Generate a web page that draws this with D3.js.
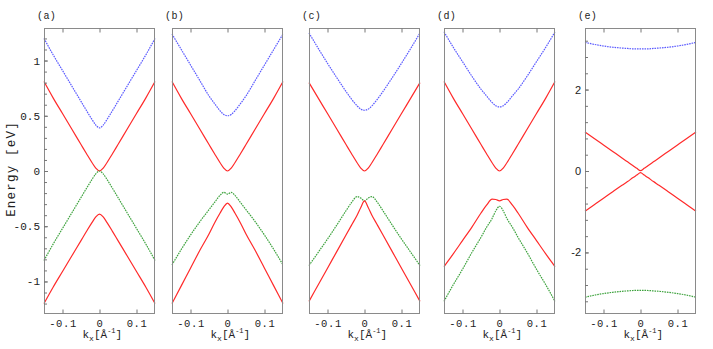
<!DOCTYPE html>
<html>
<head>
<meta charset="utf-8">
<script src="https://cdn.jsdelivr.net/npm/d3@7"></script>
<style>
  body { margin: 0; background: #fff; }
  text { font-family: "Liberation Mono", "DejaVu Sans Mono", monospace; fill: #222; }
</style>
</head>
<body>
<svg id="chart" width="713" height="349"></svg>
<script>
// momentum grid, k_x in 1/Angstrom
const kx = [-0.15, -0.125, -0.1, -0.075, -0.05, -0.035, -0.02, -0.01, 0, 0.01, 0.02, 0.035, 0.05, 0.075, 0.1, 0.125, 0.15];

// panel (a)
const aBlue   = [1.20, 1.05, 0.91, 0.77, 0.63, 0.546, 0.465, 0.416, 0.39, 0.416, 0.465, 0.546, 0.63, 0.77, 0.91, 1.05, 1.20];
const aRedUp  = [0.81, 0.66, 0.52, 0.38, 0.24, 0.156, 0.075, 0.026, 0, 0.026, 0.075, 0.156, 0.24, 0.38, 0.52, 0.66, 0.81];
const aGreen  = [-0.81, -0.66, -0.52, -0.38, -0.24, -0.156, -0.075, -0.026, 0, -0.026, -0.075, -0.156, -0.24, -0.38, -0.52, -0.66, -0.81];
const aRedLow = [-1.20, -1.05, -0.91, -0.77, -0.63, -0.546, -0.465, -0.416, -0.39, -0.416, -0.465, -0.546, -0.63, -0.77, -0.91, -1.05, -1.20];

// panel (b)
const bBlue   = [1.24, 1.10, 0.96, 0.82, 0.68, 0.61, 0.545, 0.512, 0.50, 0.512, 0.545, 0.61, 0.68, 0.82, 0.96, 1.10, 1.24];
const bRedUp  = [0.81, 0.66, 0.52, 0.38, 0.24, 0.156, 0.075, 0.026, 0, 0.026, 0.075, 0.156, 0.24, 0.38, 0.52, 0.66, 0.81];
const bGreen  = [-0.85, -0.71, -0.58, -0.46, -0.35, -0.285, -0.22, -0.193, -0.21, -0.193, -0.22, -0.285, -0.35, -0.46, -0.58, -0.71, -0.85];
const bRedLow = [-1.20, -1.04, -0.88, -0.72, -0.57, -0.47, -0.38, -0.325, -0.29, -0.325, -0.38, -0.47, -0.57, -0.72, -0.88, -1.04, -1.20];

// panel (c)
const cBlue   = [1.25, 1.11, 0.975, 0.845, 0.72, 0.65, 0.59, 0.56, 0.55, 0.56, 0.59, 0.65, 0.72, 0.845, 0.975, 1.11, 1.25];
const cRedUp  = [0.80, 0.66, 0.52, 0.38, 0.24, 0.156, 0.075, 0.026, 0, 0.026, 0.075, 0.156, 0.24, 0.38, 0.52, 0.66, 0.80];
const cGreen  = [-0.856, -0.736, -0.616, -0.49, -0.36, -0.285, -0.232, -0.245, -0.27, -0.245, -0.232, -0.285, -0.36, -0.49, -0.616, -0.736, -0.856];
const cRedLow = [-1.18, -1.03, -0.88, -0.73, -0.58, -0.49, -0.40, -0.33, -0.27, -0.33, -0.40, -0.49, -0.58, -0.73, -0.88, -1.03, -1.18];

// panel (d)
const dBlue   = [1.26, 1.12, 0.99, 0.86, 0.74, 0.68, 0.62, 0.59, 0.58, 0.59, 0.62, 0.68, 0.74, 0.86, 0.99, 1.12, 1.26];
const dRedUp  = [0.81, 0.66, 0.52, 0.38, 0.24, 0.156, 0.075, 0.026, 0, 0.026, 0.075, 0.156, 0.24, 0.38, 0.52, 0.66, 0.81];
const dRedLow = [-0.865, -0.75, -0.63, -0.51, -0.38, -0.31, -0.255, -0.258, -0.27, -0.258, -0.255, -0.31, -0.38, -0.51, -0.63, -0.75, -0.865];
const dGreen  = [-1.18, -1.03, -0.89, -0.74, -0.60, -0.51, -0.43, -0.36, -0.32, -0.36, -0.43, -0.51, -0.60, -0.74, -0.89, -1.03, -1.18];

// panel (e)
const eBlue   = [3.16, 3.11, 3.07, 3.04, 3.02, 3.01, 3.0, 3.0, 3.0, 3.0, 3.0, 3.01, 3.02, 3.04, 3.07, 3.11, 3.16];
const eRedUp  = [0.96, 0.80, 0.64, 0.48, 0.32, 0.225, 0.13, 0.065, 0.01, 0.065, 0.13, 0.225, 0.32, 0.48, 0.64, 0.80, 0.96];
const eRedLow = [-0.99, -0.83, -0.67, -0.51, -0.35, -0.26, -0.16, -0.10, -0.04, -0.10, -0.16, -0.26, -0.35, -0.51, -0.67, -0.83, -0.99];
const eGreen  = [-3.10, -3.05, -3.01, -2.98, -2.955, -2.945, -2.935, -2.93, -2.93, -2.93, -2.935, -2.945, -2.955, -2.98, -3.01, -3.05, -3.10];

const panelNames = ["(a)", "(b)", "(c)", "(d)", "(e)"];
const xTicks = [-0.1, 0, 0.1];
const yTicksA = [-1, -0.5, 0, 0.5, 1];
const yTicksE = [-2, 0, 2];

const BLUE = "#5b5bff", RED = "#ff2a2a", GREEN = "#3fa33f";

const panels = [
  {name: panelNames[0], left: 44,  ymax: 1.29, yTicks: yTicksA, minorStep: 0.1, minorMax: 1.2,
   series: [[aBlue, BLUE], [aRedUp, RED], [aGreen, GREEN], [aRedLow, RED]]},
  {name: panelNames[1], left: 172, ymax: 1.29,
   series: [[bBlue, BLUE], [bRedUp, RED], [bGreen, GREEN], [bRedLow, RED]]},
  {name: panelNames[2], left: 309, ymax: 1.29,
   series: [[cBlue, BLUE], [cRedUp, RED], [cGreen, GREEN], [cRedLow, RED]]},
  {name: panelNames[3], left: 444, ymax: 1.29,
   series: [[dBlue, BLUE], [dRedUp, RED], [dRedLow, RED], [dGreen, GREEN]]},
  {name: panelNames[4], left: 585, ymax: 3.5, yTicks: yTicksE, minorStep: 0.4, minorMax: 3.2, sans: true,
   series: [[eBlue, BLUE], [eRedUp, RED], [eRedLow, RED], [eGreen, GREEN]]}
];

const svg = d3.select("#chart");
const W = 111, TOP = 28.5, BOT = 313.5;

function fmt(d) {
  return d === 0 ? "0" : String(d);
}

panels.forEach(function(p) {
  const x = d3.scaleLinear().domain([-0.15, 0.15]).range([p.left, p.left + W]);
  const y = d3.scaleLinear().domain([-p.ymax, p.ymax]).range([BOT, TOP]);
  const g = svg.append("g");

  // curves
  const line = d3.line().x((d, i) => x(kx[i])).y(d => y(d)).curve(d3.curveMonotoneX);
  p.series.forEach(function(s) {
    const path = g.append("path").attr("d", line(s[0])).attr("fill", "none")
      .attr("stroke", s[1]).attr("stroke-width", 1.2);
    if (s[1] !== RED)
      path.attr("stroke-dasharray", "1.6,0.9");
  });

  // frame
  g.append("rect").attr("x", p.left + 0.5).attr("y", TOP).attr("width", W - 1).attr("height", BOT - TOP)
    .attr("fill", "none").attr("stroke", "#8a8a8a").attr("stroke-width", 1);

  // x axes, ticks inward
  const xb = g.append("g").attr("transform", `translate(0,${BOT})`)
    .call(d3.axisBottom(x).tickValues(xTicks).tickSize(-4).tickPadding(6).tickFormat(fmt));
  const xt = g.append("g").attr("transform", `translate(0,${TOP})`)
    .call(d3.axisTop(x).tickValues(xTicks).tickSize(-4).tickFormat(""));
  [xb, xt].forEach(function(a) {
    a.select(".domain").remove();
    a.selectAll("line").attr("stroke", "#777");
  });
  xb.selectAll("text").attr("font-size", 10.5).attr("letter-spacing", 0.6).attr("fill", "#222");

  // y axis (only on panels a and e)
  if (p.yTicks) {
    const minor = d3.range(-p.minorMax, p.minorMax + 1e-9, p.minorStep).map(v => +v.toFixed(2));
    const ym = g.append("g").attr("transform", `translate(${p.left},0)`)
      .call(d3.axisLeft(y).tickValues(minor).tickSize(-3).tickFormat(""));
    const ya = g.append("g").attr("transform", `translate(${p.left},0)`)
      .call(d3.axisLeft(y).tickValues(p.yTicks).tickSize(-4).tickPadding(4).tickFormat(fmt));
    [ym, ya].forEach(function(a) {
      a.select(".domain").remove();
      a.selectAll("line").attr("stroke", "#777");
    });
    ya.selectAll("text").attr("font-size", p.sans ? 11 : 11).attr("fill", "#222")
      .style("font-family", p.sans ? "'Liberation Sans', Arial, sans-serif" : null);
  }

  // panel label
  svg.append("text").attr("x", p.left - 7).attr("y", 19).attr("font-size", 10)
    .attr("letter-spacing", 0.4).text(p.name);

  // x label: k_x [Å^-1]
  const cx = x(0);
  const lab = svg.append("text").attr("x", cx - 17).attr("y", 338).attr("font-size", 11);
  lab.append("tspan").text("k");
  lab.append("tspan").attr("dy", 3).attr("font-size", 8).text("x");
  lab.append("tspan").attr("dy", -3).text("[Å");
  lab.append("tspan").attr("dy", -5).attr("font-size", 7).text("-1");
  lab.append("tspan").attr("dy", 5).text("]");
});

svg.append("text").attr("transform", "translate(15,169) rotate(-90)")
  .attr("text-anchor", "middle").attr("font-size", 12.5).attr("letter-spacing", 1.2)
  .text("Energy [eV]");
</script>
</body>
</html>
